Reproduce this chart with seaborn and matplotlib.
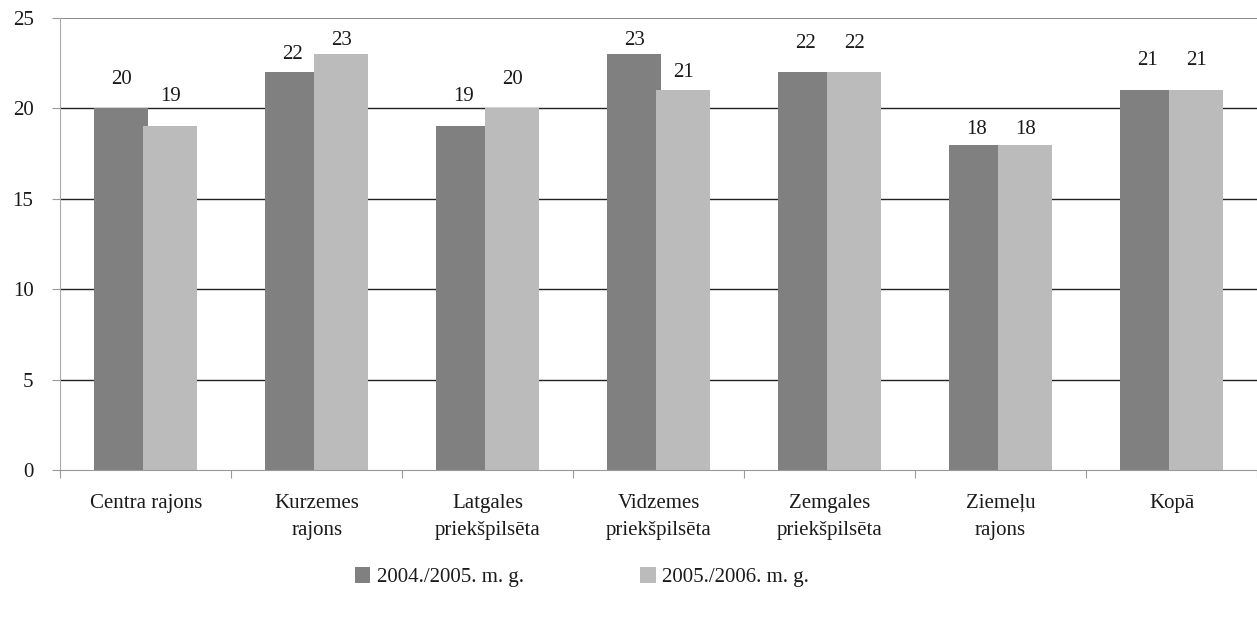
import pandas as pd
import numpy as np
import matplotlib.pyplot as plt
import seaborn as sns
from matplotlib.patches import Patch

rajoni = ['Centra rajons', 'Kurzemes\nrajons', 'Latgales\npriekšpilsēta',
          'Vidzemes\npriekšpilsēta', 'Zemgales\npriekšpilsēta', 'Ziemeļu\nrajons', 'Kopā']
gadi = ['2004./2005. m. g.', '2005./2006. m. g.']
vertibas_2004 = [20, 22, 19, 23, 22, 18, 21]
vertibas_2005 = [19, 23, 20, 21, 22, 18, 21]
krasas = ['#808080', '#bbbbbb']

# etiķešu attālums no stabiņa (punktos), kā oriģinālā
atstarpes = [[20.9, 13.0, 21.6, 10.1, 20.9, 11.0, 21.6],
             [21.6, 10.1, 20.9, 13.0, 20.9, 11.0, 21.6]]

df = pd.DataFrame({
    'rajons': rajoni * 2,
    'gads': [gadi[0]] * 7 + [gadi[1]] * 7,
    'vertiba': vertibas_2004 + vertibas_2005,
})

sns.set_theme(style='white')
plt.rcParams['font.family'] = ['Liberation Serif', 'DejaVu Serif']
fs = 15
teksts = '#1a1a1a'

fig = plt.figure(figsize=(12.57, 6.18), dpi=100)
ax = fig.add_axes([0.048, 0.2395, 0.952, 0.7315])

# līnijas aiz stabiņiem
for y in [5, 10, 15, 20]:
    ax.axhline(y, color='#222222', linewidth=1.0, zorder=0)
ax.axhline(25, color='#777777', linewidth=1.2, zorder=0)

sns.barplot(data=df, x='rajons', y='vertiba', hue='gads', palette=krasas,
            width=0.573, saturation=1, linewidth=0, ax=ax, legend=False, zorder=2)

# stabiņi nedaudz pārklājas, kā Excel diagrammā
for cont, pad in zip(ax.containers, atstarpes):
    for rect, p in zip(cont, pad):
        cx = rect.get_x() + rect.get_width() / 2
        rect.set_width(0.316)
        rect.set_x(cx - 0.158)
        ax.annotate(f'{rect.get_height():.0f}', (cx, rect.get_height()),
                    xytext=(0, p), textcoords='offset points', ha='center', va='center',
                    fontsize=fs, color=teksts)

ax.set_ylim(0, 25)
ax.set_xlim(-0.5, 6.5)
ax.set_yticks([0, 5, 10, 15, 20, 25])
ax.set_xlabel('')
ax.set_ylabel('')
ax.tick_params(axis='y', left=True, length=5.8, width=0.8, color='#999999',
               labelsize=fs, labelcolor=teksts, pad=13.5)
ax.tick_params(axis='x', which='major', length=0, labelsize=fs,
               labelcolor=teksts, pad=17)
ax.set_xticks(np.arange(-0.5, 7, 1), minor=True)
ax.tick_params(axis='x', which='minor', bottom=True, length=5.8, width=0.8, color='#999999')
for lbl in ax.get_xticklabels():
    lbl.set_linespacing(1.62)

for s in ['top', 'right']:
    ax.spines[s].set_visible(False)
ax.spines['left'].set_color('#aaaaaa')
ax.spines['left'].set_linewidth(0.8)
ax.spines['bottom'].set_color('#999999')
ax.spines['bottom'].set_linewidth(0.8)

handles = [Patch(facecolor=c, edgecolor='none') for c in krasas]
fig.legend(handles, gadi, loc='center', bbox_to_anchor=(0.463, 0.066), ncol=2,
           frameon=False, fontsize=fs, handlelength=0.75, handleheight=0.75,
           handletextpad=0.3, columnspacing=5.6, labelcolor=teksts)

fig.savefig('out.png', dpi=100)
